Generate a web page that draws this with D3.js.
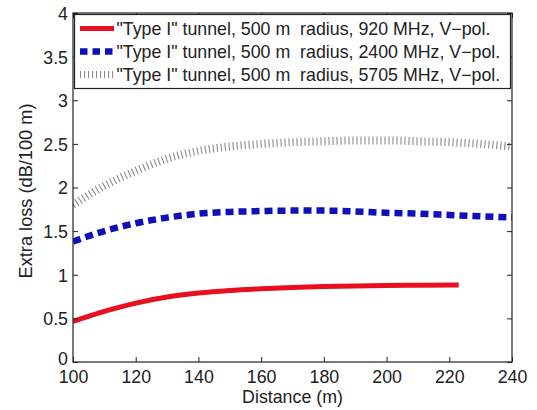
<!DOCTYPE html>
<html>
<head>
<meta charset="utf-8">
<script src="https://cdn.jsdelivr.net/npm/d3@7"></script>
<style>
  body { margin: 0; background: #fff; }
  svg text { font-family: "Liberation Sans", Arial, sans-serif; fill: #222; white-space: pre; }
</style>
</head>
<body>
<svg id="chart"></svg>
<script>
const distance920 = [100, 110, 120, 130, 140, 150, 160, 170, 180, 190, 200, 210, 223];
const loss920 = [0.465, 0.58, 0.675, 0.745, 0.79, 0.82, 0.84, 0.855, 0.865, 0.872, 0.877, 0.88, 0.882];

const distance = [100, 110, 120, 130, 140, 150, 160, 170, 180, 190, 200, 210, 220, 230, 240];
const loss2400 = [1.38, 1.50, 1.59, 1.655, 1.70, 1.72, 1.73, 1.735, 1.735, 1.725, 1.71, 1.70, 1.685, 1.67, 1.655];
const loss5705 = [1.80, 2.02, 2.19, 2.33, 2.42, 2.47, 2.50, 2.52, 2.53, 2.54, 2.54, 2.53, 2.52, 2.50, 2.47];

const legendLabels = [
  '"Type I" tunnel, 500 m  radius, 920 MHz, V\u2212pol.',
  '"Type I" tunnel, 500 m  radius, 2400 MHz, V\u2212pol.',
  '"Type I" tunnel, 500 m  radius, 5705 MHz, V\u2212pol.'
];
const xTicks = [100, 120, 140, 160, 180, 200, 220, 240];
const yTicks = [0, 0.5, 1, 1.5, 2, 2.5, 3, 3.5, 4];

const width = 537, height = 410;
const margin = { top: 13, right: 25, bottom: 48, left: 73 };
const fontSize = 17.8;

const svg = d3.select('#chart').attr('width', width).attr('height', height);

const x = d3.scaleLinear().domain([100, 240]).range([margin.left, width - margin.right]);
const y = d3.scaleLinear().domain([0, 4]).range([height - margin.bottom, margin.top]);

const series = [
  { xs: distance920, ys: loss920, color: '#e8101e', width: 5, dash: null },
  { xs: distance, ys: loss2400, color: '#1010b8', width: 6.5, dash: '8 5' },
  { xs: distance, ys: loss5705, color: '#8c8c8c', width: 8, dash: '1.1 2.9' }
];

const line = d3.line().curve(d3.curveMonotoneX).x(d => x(d[0])).y(d => y(d[1]));

svg.append('defs').append('clipPath').attr('id', 'plot-clip')
  .append('rect')
  .attr('x', margin.left).attr('y', margin.top)
  .attr('width', width - margin.left - margin.right)
  .attr('height', height - margin.top - margin.bottom);

const plot = svg.append('g').attr('clip-path', 'url(#plot-clip)');

series.forEach(s => {
  plot.append('path')
    .datum(s.xs.map((d, i) => [d, s.ys[i]]))
    .attr('d', line)
    .attr('fill', 'none')
    .attr('stroke', s.color)
    .attr('stroke-width', s.width)
    .attr('stroke-dasharray', s.dash);
});

// axes, matlab style: ticks inside on all four sides
const tickLen = 5;
const axBottom = svg.append('g').attr('transform', `translate(0,${y(0)})`)
  .call(d3.axisBottom(x).tickValues(xTicks).tickSizeInner(-tickLen).tickSizeOuter(0).tickPadding(5));
const axTop = svg.append('g').attr('transform', `translate(0,${y(4)})`)
  .call(d3.axisTop(x).tickValues(xTicks).tickSizeInner(-tickLen).tickSizeOuter(0).tickFormat(''));
const axLeft = svg.append('g').attr('transform', `translate(${x(100)},0)`)
  .call(d3.axisLeft(y).tickValues(yTicks).tickSizeInner(-tickLen).tickSizeOuter(0).tickPadding(5).tickFormat(d3.format('')));
const axRight = svg.append('g').attr('transform', `translate(${x(240)},0)`)
  .call(d3.axisRight(y).tickValues(yTicks).tickSizeInner(-tickLen).tickSizeOuter(0).tickFormat(''));

[axBottom, axTop, axLeft, axRight].forEach(g => {
  g.selectAll('.domain').remove();
  g.selectAll('line').attr('stroke', '#222');
  g.selectAll('text').attr('font-size', fontSize).attr('fill', '#222');
});
axBottom.selectAll('text').attr('dy', '0.92em');
axLeft.selectAll('text').attr('dy', d => d === 0 ? '0.15em' : '0.36em');

svg.append('rect')
  .attr('x', x(100)).attr('y', y(4))
  .attr('width', x(240) - x(100)).attr('height', y(0) - y(4))
  .attr('fill', 'none').attr('stroke', '#222').attr('stroke-width', 1.2);

// legend
const legend = svg.append('g');
legend.append('rect')
  .attr('x', x(100) + 1.5).attr('y', y(4) + 1.5)
  .attr('width', x(240) - x(100) - 3).attr('height', 74)
  .attr('fill', '#fff').attr('stroke', '#222').attr('stroke-width', 1.2);

legendLabels.forEach((label, i) => {
  const ly = y(4) + 15.5 + i * 23;
  legend.append('line')
    .attr('x1', 80).attr('x2', 114).attr('y1', ly).attr('y2', ly)
    .attr('stroke', series[i].color)
    .attr('stroke-width', i === 2 ? 7 : series[i].width)
    .attr('stroke-dasharray', i === 1 ? '7.5 5' : series[i].dash);
  legend.append('text')
    .attr('x', 116.5).attr('y', ly).attr('dy', '0.36em')
    .attr('font-size', fontSize)
    .text(label);
});

svg.append('text')
  .attr('x', (x(100) + x(240)) / 2).attr('y', 403)
  .attr('text-anchor', 'middle').attr('font-size', 17.8)
  .text('Distance (m)');

svg.append('text')
  .attr('transform', `translate(31.5,${y(1.96)}) rotate(-90)`)
  .attr('text-anchor', 'middle').attr('font-size', 18.2)
  .text('Extra loss (dB/100 m)');
</script>
</body>
</html>
